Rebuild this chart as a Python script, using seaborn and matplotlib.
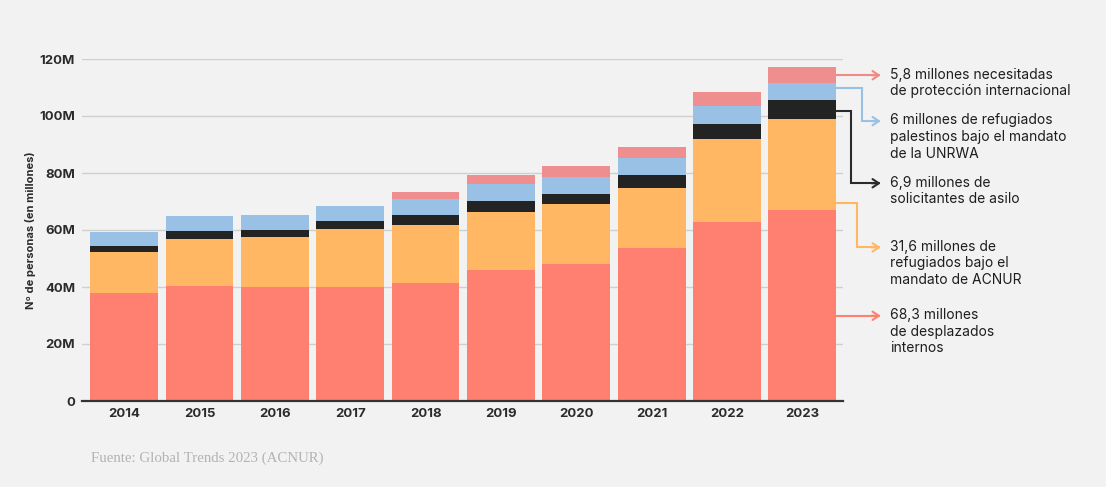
import numpy as np
import pandas as pd
import matplotlib
matplotlib.use('Agg')
import matplotlib.pyplot as plt
import seaborn as sns

# datos (millones de personas)
years = ['2014', '2015', '2016', '2017', '2018', '2019', '2020', '2021', '2022', '2023']
desplazados = [38.0, 40.5, 40.1, 40.0, 41.4, 45.9, 48.0, 53.6, 62.7, 67.0]
refugiados_acnur = [14.2, 16.2, 17.5, 20.2, 20.4, 20.3, 21.1, 21.1, 29.3, 31.8]
solicitantes_asilo = [2.1, 3.1, 2.5, 3.1, 3.5, 4.1, 3.5, 4.5, 5.3, 6.8]
refugiados_unrwa = [4.9, 5.2, 5.3, 5.1, 5.5, 5.7, 6.1, 6.1, 6.3, 5.9]
proteccion_int = [0.0, 0.0, 0.0, 0.0, 2.6, 3.3, 3.6, 3.9, 4.7, 5.8]

yticks = [0, 20, 40, 60, 80, 100, 120]
ytick_labels = ['0', '20M', '40M', '60M', '80M', '100M', '120M']

labels = [
    '5,8 millones necesitadas\nde protección internacional',
    '6 millones de refugiados\npalestinos bajo el mandato\nde la UNRWA',
    '6,9 millones de\nsolicitantes de asilo',
    '31,6 millones de\nrefugiados bajo el\nmandato de ACNUR',
    '68,3 millones\nde desplazados\ninternos',
]

BG = '#f2f2f2'
C_RED = '#ff8070'
C_ORANGE = '#ffb764'
C_BLACK = '#232323'
C_BLUE = '#99c1e6'
C_PINK = '#ee8e8e'

sns.set_style('white')
plt.rcParams['font.family'] = ['Inter', 'DejaVu Sans']

df = pd.DataFrame({
    'year': years,
    'red': desplazados,
    'orange': refugiados_acnur,
    'black': solicitantes_asilo,
    'blue': refugiados_unrwa,
    'pink': proteccion_int,
})
order = ['red', 'orange', 'black', 'blue', 'pink']
colors = {'red': C_RED, 'orange': C_ORANGE, 'black': C_BLACK, 'blue': C_BLUE, 'pink': C_PINK}
cum = df[order].cumsum(axis=1)

fig = plt.figure(figsize=(11.06, 4.87), dpi=100, facecolor=BG)
ax = fig.add_axes([82 / 1106, 1 - 401 / 487, (843 - 82) / 1106, (401 - 59) / 487])
ax.set_facecolor(BG)

# barras apiladas: de la capa superior a la inferior
for key in reversed(order):
    sns.barplot(x=df['year'], y=cum[key], color=colors[key], saturation=1,
                width=0.9, ax=ax, zorder=2, edgecolor='none', linewidth=0)

ax.set_xlim(-0.56, 9.54)
ax.set_ylim(0, 120)
ax.set_yticks(yticks)
ax.set_yticklabels(ytick_labels)
ax.yaxis.grid(True, color='#cfcfcf', linewidth=1, zorder=0)
ax.set_axisbelow(True)
for s in ['top', 'right', 'left']:
    ax.spines[s].set_visible(False)
ax.spines['bottom'].set_color('#333333')
ax.spines['bottom'].set_linewidth(1.6)
ax.spines['bottom'].set_zorder(3)
ax.tick_params(axis='both', length=0, labelsize=9.5, colors='#2b2b2b')
ax.tick_params(axis='y', pad=5)
ax.tick_params(axis='x', pad=5)
for t in ax.get_xticklabels() + ax.get_yticklabels():
    t.set_fontweight('bold')
ax.set_xlabel('')
ax.set_ylabel('Nº de personas (en millones)', fontsize=8, fontweight='bold',
              color='#2b2b2b', labelpad=2)

# anotaciones a la derecha (barra 2023)
bar_right = 9.45
arrow_x = 10.04
text_x = 10.17
start_y = [114.3, 109.7, 101.9, 69.4, 29.9]
turn_x = [None, 9.79, 9.647, 9.73, None]
end_y = [114.3, 98.2, 76.4, 53.9, 29.9]
line_colors = ['#f08a84', C_BLUE, '#2b2b2b', C_ORANGE, C_RED]

for lab, y0, tx, y1, lc in zip(labels, start_y, turn_x, end_y, line_colors):
    if tx is None:
        xs, ys = [bar_right, arrow_x - 0.02], [y0, y1]
    else:
        xs, ys = [bar_right, tx, tx, arrow_x - 0.02], [y0, y0, y1, y1]
    ax.plot(xs, ys, color=lc, lw=1.5, clip_on=False, zorder=4, solid_joinstyle='miter')
    ax.annotate('', xy=(arrow_x, y1), xytext=(arrow_x - 0.12, y1),
                arrowprops=dict(arrowstyle='->,head_length=0.45,head_width=0.3',
                                color=lc, lw=1.5, shrinkA=0, shrinkB=0),
                annotation_clip=False)
    ax.text(text_x, y1 + 2.7, lab, ha='left', va='top', fontsize=10,
            color='#1e1e1e', linespacing=1.24, clip_on=False)

fig.text(91 / 1106, 1 - 458 / 487, 'Fuente: Global Trends 2023 (ACNUR)',
         family=['Liberation Serif', 'DejaVu Serif'], fontsize=10.7,
         color='#b3b3b3', ha='left', va='center')

fig.savefig('out.png', dpi=100, facecolor=BG)
